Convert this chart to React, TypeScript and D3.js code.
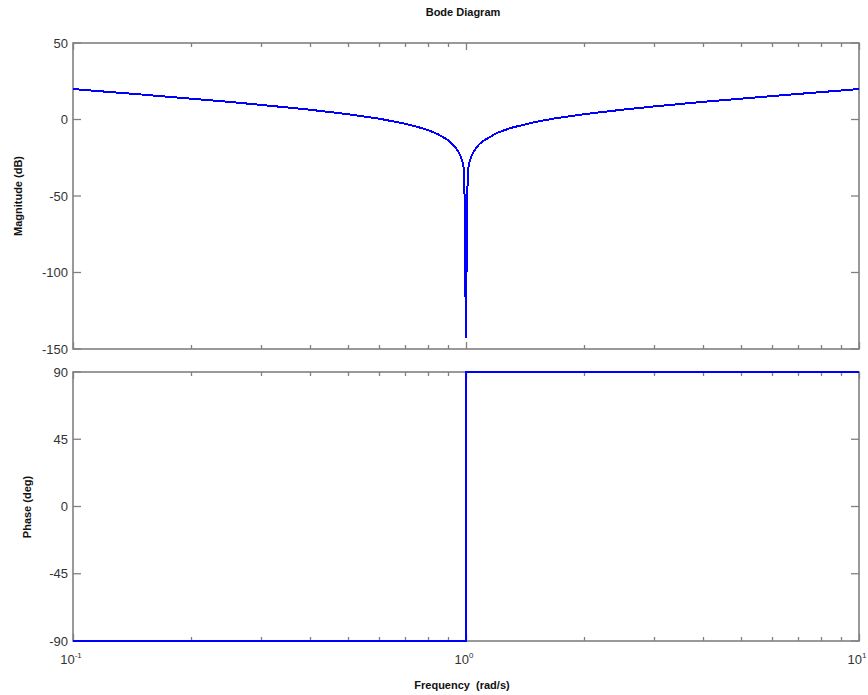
import * as d3 from 'd3'

// magnitude response (rad/s, dB)
const magFreq = [
  0.1, 0.125, 0.15, 0.2, 0.25, 0.3, 0.4, 0.5, 0.6, 0.7, 0.75, 0.8, 0.85, 0.9, 0.93, 0.95, 0.97, 0.98, 0.99,
  0.9995, 1.004, 1.01, 1.02, 1.03, 1.05, 1.08, 1.1, 1.2, 1.3, 1.5, 1.7, 2, 2.5, 3, 4, 5, 6, 7, 8, 10,
]
const magDb = [
  19.9, 17.9, 16.3, 13.6, 11.5, 9.6, 6.4, 3.5, 0.6, -2.8, -4.7, -6.9, -9.7, -13.5, -16.8, -19.8, -24.3, -27.9, -33.9,
  -143, -88, -34, -28, -24.6, -20.2, -16.2, -14.4, -8.7, -5.5, -1.6, 0.9, 3.5, 6.4, 8.5, 11.5, 13.6, 15.3, 16.7, 17.9, 19.9,
]

// phase response (rad/s, deg)
const phaseFreq = [0.1, 1, 1, 10]
const phaseDeg = [-90, -90, 90, 90]

const magTicks = [50, 0, -50, -100, -150]
const phaseTicks = [90, 45, 0, -45, -90]
const freqDecades = [0.1, 1, 10]
const decadeExp = ['-1', '0', '1']

const W = 868
const H = 695
const left = 73
const right = 859
const font = 'Liberation Sans, Arial, sans-serif'
const axisColor = '#808080'
const textColor = '#333'

const x = d3.scaleLog().domain([0.1, 10]).range([left, right])
const yMag = d3.scaleLinear().domain([-150, 50]).range([349, 43])
const yPh = d3.scaleLinear().domain([-90, 90]).range([641, 372])

function Panel({ y, ticks, showX }: { y: d3.ScaleLinear<number, number>; ticks: number[]; showX: boolean }) {
  const [y0, y1] = y.range()
  const xTicks = x.ticks()
  return (
    <g>
      <rect x={left} y={y1} width={right - left} height={y0 - y1} fill="none" stroke={axisColor} strokeWidth={1.6} />
      {xTicks.map((t, i) => {
        const major = freqDecades.includes(+t.toPrecision(3))
        const len = major ? 7 : 4
        const xx = Math.round(x(t)) + 0.5
        return (
          <g key={i} stroke={axisColor} strokeWidth={1.3}>
            <line x1={xx} x2={xx} y1={y0} y2={y0 - len} />
            <line x1={xx} x2={xx} y1={y1} y2={y1 + len} />
          </g>
        )
      })}
      {ticks.map((t) => (
        <g key={t}>
          <line x1={left} x2={left + 8} y1={y(t)} y2={y(t)} stroke={axisColor} strokeWidth={1.3} />
          <line x1={right} x2={right - 8} y1={y(t)} y2={y(t)} stroke={axisColor} strokeWidth={1.3} />
          <text x={left - 5} y={y(t) + 4.5} textAnchor="end" fontSize={13} fill={textColor} fontFamily={font}>
            {t}
          </text>
        </g>
      ))}
      {showX &&
        freqDecades.map((d, i) => (
          <text key={d} x={x(d) - 2} y={664} textAnchor="middle" fontSize={13} fill={textColor} fontFamily={font}>
            10
            <tspan dy={-6} fontSize={8}>
              {decadeExp[i]}
            </tspan>
          </text>
        ))}
    </g>
  )
}

export default function App() {
  const magLine = d3
    .line<number>()
    .x((_, i) => x(magFreq[i]))
    .y((d) => yMag(d))
  const phLine = d3
    .line<number>()
    .x((_, i) => x(phaseFreq[i]))
    .y((d) => yPh(d))

  return (
    <svg width={W} height={H} style={{ position: 'absolute', left: 0, top: 0, background: '#fff' }}>
      <rect width={W} height={H} fill="#fff" />
      <text x={463} y={16} textAnchor="middle" fontSize={11} fontWeight="bold" fill="#111" fontFamily={font}>
        Bode Diagram
      </text>
      <Panel y={yMag} ticks={magTicks} showX={false} />
      <Panel y={yPh} ticks={phaseTicks} showX={true} />
      <path d={magLine(magDb) ?? ''} fill="none" stroke="#0000ff" strokeWidth={2} shapeRendering="crispEdges" />
      <path d={phLine(phaseDeg) ?? ''} fill="none" stroke="#0000ff" strokeWidth={2} />
      <text
        transform={`translate(22,196) rotate(-90)`}
        textAnchor="middle"
        fontSize={11}
        fontWeight="bold"
        fill="#111"
        fontFamily={font}
      >
        Magnitude (dB)
      </text>
      <text
        transform={`translate(31,507) rotate(-90)`}
        textAnchor="middle"
        fontSize={11}
        fontWeight="bold"
        fill="#111"
        fontFamily={font}
      >
        Phase (deg)
      </text>
      <text x={462} y={689} textAnchor="middle" fontSize={11} fontWeight="bold" fill="#111" fontFamily={font} style={{ whiteSpace: 'pre' }}>
        Frequency  (rad/s)
      </text>
    </svg>
  )
}
